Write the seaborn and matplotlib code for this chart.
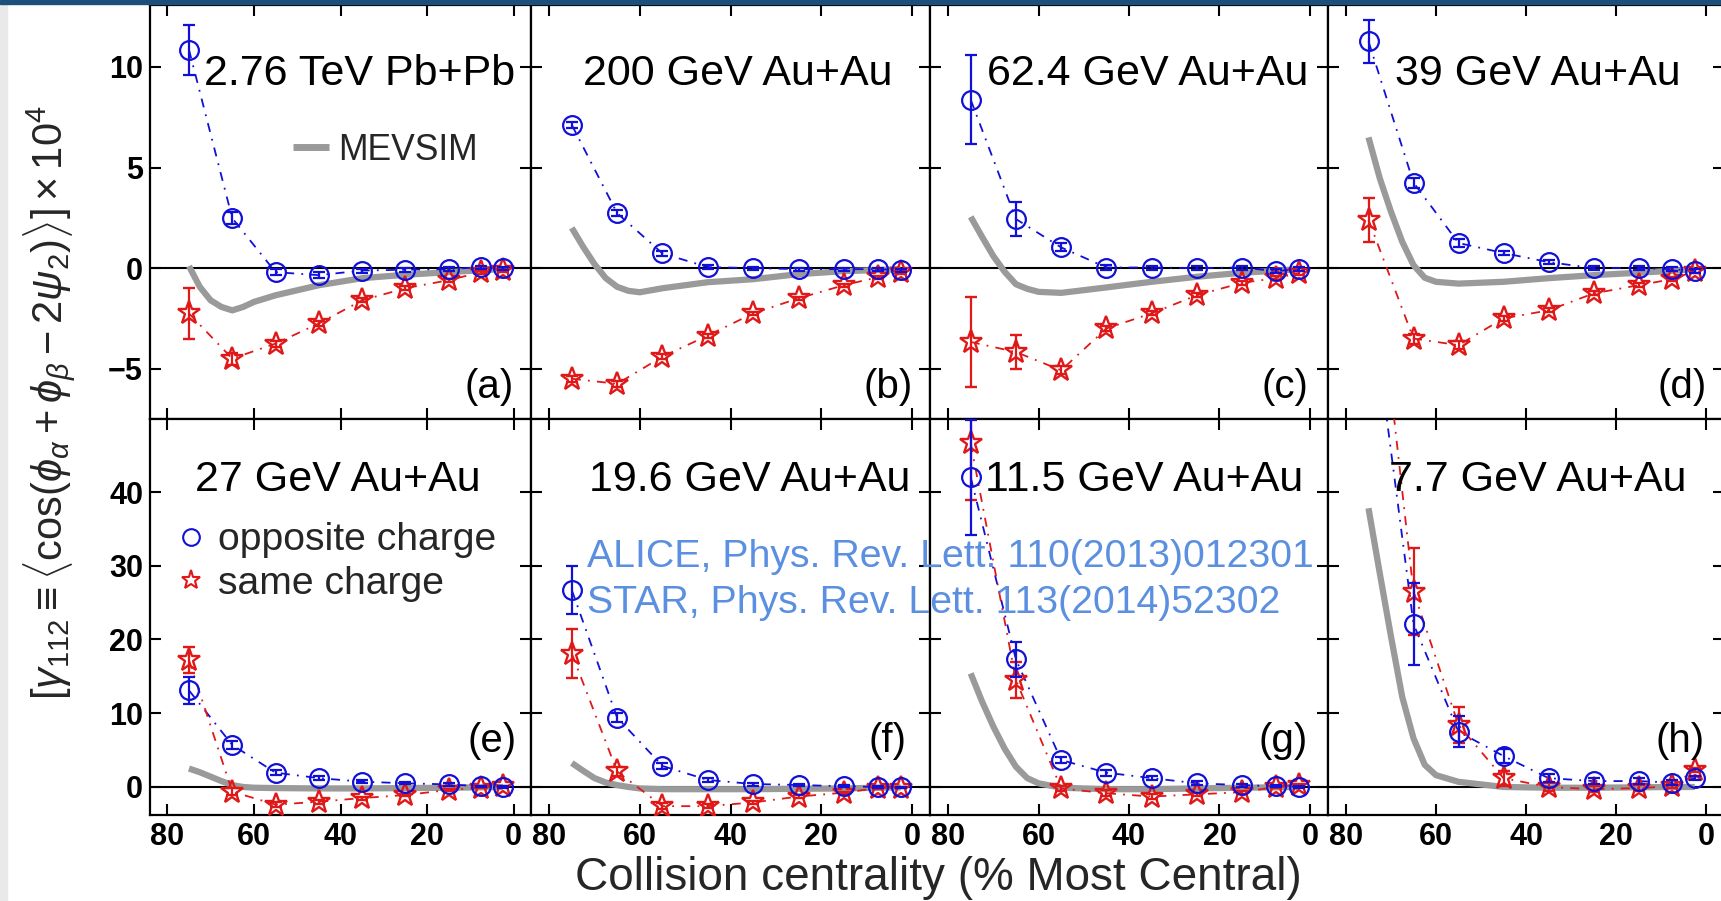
import numpy as np
import pandas as pd
import matplotlib
matplotlib.use("Agg")
import matplotlib.pyplot as plt
import seaborn as sns
from matplotlib.lines import Line2D
from matplotlib.patches import Rectangle

# ---------------- data ----------------
cent = [75, 65, 55, 45, 35, 25, 15, 7.5, 2.5]
mev_x = [75, 72.5, 70, 67.5, 65, 62.5, 60, 55, 45, 35, 25, 15, 7.5, 2.5]

titles = ["2.76 TeV Pb+Pb", "200 GeV Au+Au", "62.4 GeV Au+Au", "39 GeV Au+Au",
          "27 GeV Au+Au", "19.6 GeV Au+Au", "11.5 GeV Au+Au", "7.7 GeV Au+Au"]
letters = ["(a)", "(b)", "(c)", "(d)", "(e)", "(f)", "(g)", "(h)"]

opp_a = [10.86, 2.48, -0.2, -0.35, -0.12, -0.08, -0.05, 0.05, 0.0]
opp_a_err = [1.25, 0.3, 0.15, 0.15, 0.1, 0.1, 0.1, 0.08, 0.08]
same_a = [-2.25, -4.5, -3.75, -2.75, -1.6, -1.0, -0.6, -0.2, -0.1]
same_a_err = [1.25, 0.3, 0.15, 0.12, 0.1, 0.1, 0.08, 0.08, 0.08]
mev_a = [0.1, -0.93, -1.6, -1.93, -2.1, -1.93, -1.68, -1.35, -0.85, -0.5, -0.33, -0.2, -0.1, -0.05]

opp_b = [7.12, 2.73, 0.73, 0.05, 0.0, -0.05, -0.05, -0.05, -0.1]
opp_b_err = [0.15, 0.15, 0.12, 0.1, 0.08, 0.08, 0.08, 0.08, 0.08]
same_b = [-5.5, -5.75, -4.4, -3.35, -2.25, -1.5, -0.85, -0.45, -0.2]
same_b_err = [0.15, 0.15, 0.12, 0.1, 0.08, 0.08, 0.08, 0.08, 0.08]
mev_b = [2.0, 1.06, 0.2, -0.5, -0.93, -1.13, -1.2, -1.0, -0.7, -0.55, -0.3, -0.15, -0.1, -0.05]

opp_c = [8.37, 2.44, 1.03, 0.03, 0.03, 0.0, 0.03, -0.15, -0.05]
opp_c_err = [2.2, 0.83, 0.2, 0.12, 0.1, 0.1, 0.1, 0.1, 0.1]
same_c = [-3.67, -4.17, -5.08, -3.0, -2.25, -1.35, -0.73, -0.5, -0.25]
same_c_err = [2.25, 0.85, 0.2, 0.12, 0.1, 0.1, 0.1, 0.1, 0.1]
mev_c = [2.55, 1.56, 0.6, -0.18, -0.8, -1.03, -1.18, -1.23, -0.96, -0.68, -0.43, -0.23, -0.13, -0.05]

opp_d = [11.27, 4.25, 1.25, 0.75, 0.3, 0.0, 0.0, -0.05, -0.15]
opp_d_err = [1.05, 0.25, 0.2, 0.12, 0.1, 0.1, 0.1, 0.1, 0.1]
same_d = [2.4, -3.5, -3.83, -2.5, -2.1, -1.26, -0.85, -0.55, -0.15]
same_d_err = [1.1, 0.25, 0.2, 0.12, 0.1, 0.1, 0.1, 0.1, 0.1]
mev_d = [6.5, 4.47, 2.8, 1.31, 0.15, -0.48, -0.68, -0.77, -0.68, -0.5, -0.35, -0.23, -0.13, -0.05]

opp_e = [13.1, 5.7, 1.94, 1.2, 0.72, 0.5, 0.35, 0.1, 0.0]
opp_e_err = [1.8, 0.5, 0.3, 0.25, 0.2, 0.15, 0.15, 0.1, 0.1]
same_e = [17.2, -0.63, -2.4, -2.0, -1.5, -1.1, -0.4, -0.1, 0.1]
same_e_err = [1.8, 0.5, 0.3, 0.25, 0.2, 0.15, 0.15, 0.1, 0.1]
mev_e = [2.5, 2.0, 1.4, 0.8, 0.25, 0.0, -0.1, -0.15, -0.2, -0.2, -0.15, -0.1, -0.05, 0.0]

opp_f = [26.7, 9.4, 2.85, 0.95, 0.4, 0.27, 0.1, 0.0, -0.05]
opp_f_err = [3.3, 0.6, 0.4, 0.3, 0.2, 0.2, 0.15, 0.1, 0.1]
same_f = [18.1, 2.1, -2.6, -2.6, -2.1, -1.3, -0.77, -0.15, -0.1]
same_f_err = [3.3, 0.6, 0.4, 0.3, 0.2, 0.2, 0.15, 0.1, 0.1]
mev_f = [3.25, 2.2, 1.2, 0.6, 0.25, 0.0, -0.2, -0.3, -0.3, -0.3, -0.25, -0.2, -0.1, -0.05]

opp_g = [42.0, 17.3, 3.66, 1.94, 1.2, 0.5, 0.25, 0.1, 0.0]
opp_g_err = [7.8, 2.4, 0.4, 0.4, 0.3, 0.25, 0.2, 0.15, 0.15]
same_g = [46.6, 14.5, -0.2, -0.85, -1.3, -1.0, -0.7, 0.0, 0.3]
same_g_err = [7.7, 2.4, 0.4, 0.4, 0.3, 0.25, 0.2, 0.15, 0.15]
mev_g = [15.4, 11.6, 8.2, 5.2, 2.75, 1.2, 0.5, -0.1, -0.3, -0.3, -0.2, -0.1, -0.05, 0.0]

opp_h = [69.0, 22.1, 7.5, 4.2, 1.2, 0.8, 0.8, 0.6, 1.2]
opp_h_err = [12.0, 5.6, 2.1, 1.0, 0.5, 0.4, 0.4, 0.3, 0.3]
same_h = [81.0, 26.5, 8.4, 1.2, 0.0, -0.3, -0.15, 0.1, 2.3]
same_h_err = [14.0, 5.9, 2.4, 1.0, 0.5, 0.4, 0.4, 0.3, 0.3]
mev_h = [37.8, 29.0, 20.4, 12.2, 6.6, 3.0, 1.6, 0.7, 0.0, -0.1, -0.1, -0.05, 0.0, 0.0]

x_ticks = [80, 60, 40, 20, 0]
y_ticks_top = [-5, 0, 5, 10]
y_ticks_bot = [0, 10, 20, 30, 40]

ref_lines = ["ALICE, Phys. Rev. Lett. 110(2013)012301",
             "STAR, Phys. Rev. Lett. 113(2014)52302"]

# ---------------- style ----------------
sns.set_theme(style="white")
plt.rcParams.update({
    "font.family": ["Liberation Sans", "DejaVu Sans"],
    "mathtext.fontset": "custom",
    "mathtext.rm": "Liberation Sans",
    "mathtext.it": "Liberation Sans:italic",
    "mathtext.bf": "Liberation Sans:bold",
    "axes.unicode_minus": True,
})

BLUE = "#1010d8"
RED = "#e01818"
GRAY = "#9a9a9a"
REFBLUE = "#5b8fe0"

W, H = 1721, 901
fig = plt.figure(figsize=(W / 100, H / 100), dpi=100)
fig.patch.set_facecolor("white")

lefts = [150, 531, 930, 1328]
rights = [531, 930, 1328, 1724]
rows = [(5, 419), (419, 815)]

opps = [opp_a, opp_b, opp_c, opp_d, opp_e, opp_f, opp_g, opp_h]
opp_errs = [opp_a_err, opp_b_err, opp_c_err, opp_d_err, opp_e_err, opp_f_err, opp_g_err, opp_h_err]
sames = [same_a, same_b, same_c, same_d, same_e, same_f, same_g, same_h]
same_errs = [same_a_err, same_b_err, same_c_err, same_d_err, same_e_err, same_f_err, same_g_err, same_h_err]
mevs = [mev_a, mev_b, mev_c, mev_d, mev_e, mev_f, mev_g, mev_h]

title_x = [0.549, 0.518, 0.546, 0.529, 0.492, 0.549, 0.538, 0.529]
letter_x = [0.955, 0.957, 0.950, 0.957, 0.961, 0.942, 0.950, 0.952]

axes = []
for i in range(8):
    r, c = divmod(i, 4)
    t, b = rows[r]
    l, rr = lefts[c], rights[c]
    ax = fig.add_axes([l / W, 1 - b / H, (rr - l) / W, (b - t) / H])
    axes.append(ax)
    ax.set_facecolor("white")

    ax.axhline(0, color="black", lw=1.5, zorder=1)
    sns.lineplot(x=mev_x, y=mevs[i], ax=ax, color=GRAY, lw=4.5, zorder=2,
                 estimator=None, sort=False, solid_capstyle="butt")
    sns.lineplot(x=cent, y=opps[i], ax=ax, color=BLUE, lw=1.3, zorder=3,
                 estimator=None, sort=False, linestyle=(0, (5, 4, 1, 4)))
    sns.lineplot(x=cent, y=sames[i], ax=ax, color=RED, lw=1.3, zorder=3,
                 estimator=None, sort=False, linestyle=(0, (5, 4, 1, 4)))
    ax.errorbar(cent, sames[i], yerr=same_errs[i], fmt="*", ms=17, mfc="none",
                mec=RED, mew=1.7, ecolor=RED, elinewidth=1.6, capsize=4,
                capthick=1.6, zorder=4)
    ax.errorbar(cent, opps[i], yerr=opp_errs[i], fmt="o", ms=13.5, mfc="none",
                mec=BLUE, mew=1.6, ecolor=BLUE, elinewidth=1.6, capsize=4,
                capthick=1.6, zorder=5)

    ax.set_xlim(84, -4)
    if r == 0:
        ax.set_ylim(-7.5, 13.08)
        ax.set_yticks(y_ticks_top)
    else:
        ax.set_ylim(-3.8, 49.9)
        ax.set_yticks(y_ticks_bot)
    ax.set_xticks(x_ticks)
    ax.set_xlabel("")
    ax.set_ylabel("")
    ax.tick_params(direction="in", length=8, width=1.5, top=True, right=True,
                   bottom=True, left=True, labelsize=22, colors="black",
                   labelbottom=(r == 1), labelleft=(c == 0), pad=5)
    for lab in ax.get_xticklabels() + ax.get_yticklabels():
        lab.set_fontweight("bold")
    for sp in ax.spines.values():
        sp.set_visible(True)
        sp.set_color("black")
        sp.set_linewidth(1.6)

    ty = 0.807 if r == 0 else 0.819
    ax.text(title_x[i], ty, titles[i], transform=ax.transAxes, ha="center",
            va="baseline", fontsize=31, color="black", zorder=6)
    ly = 0.051 if r == 0 else 0.16
    ax.text(letter_x[i], ly, letters[i], transform=ax.transAxes, ha="right",
            va="baseline", fontsize=29, color="black", zorder=6)

# MEVSIM legend in panel (a)
h_mev = Line2D([], [], color=GRAY, lw=5, solid_capstyle="butt")
axes[0].legend([h_mev], ["MEVSIM"], loc="center left",
               bbox_to_anchor=((293 - 150) / 381, (419 - 150) / 414),
               frameon=False, fontsize=25.6, handlelength=1.02, handletextpad=0.25,
               borderpad=0, borderaxespad=0)

# charge legend in panel (e)
h_opp = Line2D([], [], ls="none", marker="o", ms=12, mfc="none", mec=BLUE, mew=1.5)
h_same = Line2D([], [], ls="none", marker="*", ms=14, mfc="none", mec=RED, mew=1.5)
axes[4].legend([h_opp, h_same], ["opposite charge", "same charge"], loc="center left",
               bbox_to_anchor=((180 - 150) / 381, (815 - 562) / 396),
               frameon=False, fontsize=28.2, handlelength=0.58, handletextpad=0.4,
               labelspacing=0.18, borderpad=0, borderaxespad=0)

# reference text
fig.text(587 / W, 1 - 567 / H, ref_lines[0], color=REFBLUE, fontsize=28.3,
         ha="left", va="baseline", zorder=10)
fig.text(587 / W, 1 - 613 / H, ref_lines[1], color=REFBLUE, fontsize=28.3,
         ha="left", va="baseline", zorder=10)

# axis labels
fig.text(938 / W, 1 - 878 / H, "Collision centrality (% Most Central)",
         ha="center", va="center", fontsize=33)
fig.text(50 / W, 1 - 403 / H,
         r"$[\gamma_{112} \equiv \langle\mathrm{cos}(\phi_{\alpha} + \phi_{\beta} - 2\psi_{2})\rangle] \times 10^{4}$",
         rotation=90, ha="center", va="center", fontsize=30)

# frame decorations
fig.patches.append(Rectangle((0, 1 - 4 / H), 1, 4 / H, transform=fig.transFigure,
                             color="#1d4f7c", zorder=20))
fig.patches.append(Rectangle((0, 0), 7 / W, 1, transform=fig.transFigure,
                             color="#e9e9e9", zorder=0))

fig.savefig("out.png", dpi=100)
